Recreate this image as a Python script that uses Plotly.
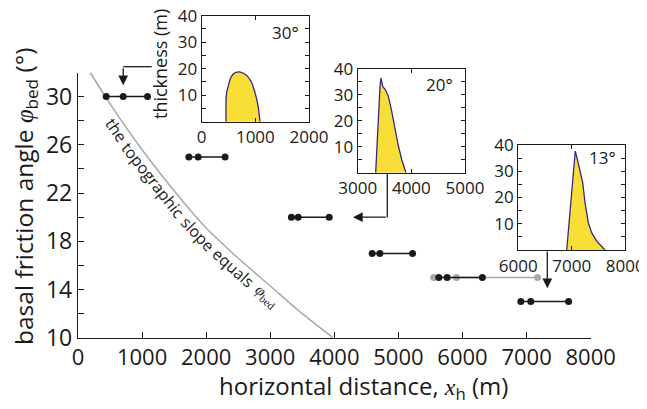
import math
import plotly.graph_objects as go

W, H = 647, 409          # browser window
OX, OY = 8, 8            # page body margin
FW, FH = W - OX, H - OY  # figure size
FONT = "Open Sans"
SERIF = "Liberation Serif"
INK = "#1a1a1a"
GREY = "#a8a8a8"
YELLOW = "#f7df38"
PURPLE = "#3e2382"

# ---------------- data ----------------
angles = [30, 25, 20, 17, 15, 13]
front_start = [440, 1730, 3330, 4590, 5630, 6910]
peak_pos = [705, 1875, 3435, 4710, 5760, 7065]
front_end = [1085, 2295, 3920, 5220, 6310, 7655]

grey_angle = 15
grey_x = [5550, 5905, 7170]

slope_x = [190, 500, 1000, 1500, 2000, 2500, 3000, 3500, 3980]
slope_y = [32.0, 29.4, 25.6, 22.2, 19.1, 16.6, 14.3, 12.0, 10.0]

p30_x = [453, 455, 470, 500, 530, 580, 640, 700, 780, 850, 930, 1000, 1050, 1087]
p30_y = [0, 9, 11.5, 13.8, 16.0, 17.8, 18.6, 18.8, 18.3, 17.2, 14.8, 10.5, 6.0, 0]
p20_x = [3335, 3354, 3384, 3416, 3434, 3466, 3516, 3571, 3634, 3696, 3758, 3820, 3900]
p20_y = [0, 9, 21.8, 33.3, 36.5, 33.3, 32, 29.5, 23.7, 16.7, 10.3, 5.1, 0]
p13_x = [6905, 6966, 7017, 7065, 7103, 7153, 7204, 7247, 7308, 7371, 7465, 7620]
p13_y = [0, 14.2, 26.9, 37.7, 34.6, 30.7, 25.7, 18, 10.4, 6.6, 3.4, 0]

main_xticks = [0, 1000, 2000, 3000, 4000, 5000, 6000, 7000, 8000]
main_yticks = [10, 12, 14, 16, 18, 20, 22, 24, 26, 28, 30, 32]
main_ylabels = ["10", "", "14", "", "18", "", "22", "", "26", "", "30", ""]
inset_yticks = [5, 10, 15, 20, 25, 30, 35, 40]
inset_ylabels = ["", "10", "", "20", "", "30", "", "40"]

curve_words = ["the", "topographic", "slope", "equals",
               f'<span style="font-family:{SERIF}"><i>φ</i><sub>bed</sub></span>']
word_em = [1.52, 5.62, 2.48, 3.05, 1.85]   # approximate text widths in em

# ---------------- geometry (window pixels) ----------------
MX0, MX1 = 78.0, 590.7      # main x: 0 .. 8000
MY0, MY1 = 337.8, 72.5      # main y: 10 .. 32
XR = [0, 8000]
YR = [10, 32]


def fx(px):
    return (px - OX) / FW


def fy(py):
    return (OY + FH - py) / FH


def px_of_x(v):
    return MX0 + (v - XR[0]) / (XR[1] - XR[0]) * (MX1 - MX0)


def py_of_y(v):
    return MY0 - (v - YR[0]) / (YR[1] - YR[0]) * (MY0 - MY1)


insets = [
    dict(box=(201.7, 309.0, 15.7, 121.7), xr=[0, 2000], xt=[0, 1000, 2000],
         px=p30_x, py=p30_y, label="30°", lab=(0.93, 0.84), smooth=True),
    dict(box=(357.7, 465.0, 69.0, 172.7), xr=[3000, 5000], xt=[3000, 4000, 5000],
         px=p20_x, py=p20_y, label="20°", lab=(0.905, 0.85), smooth=False),
    dict(box=(518.3, 625.3, 145.0, 250.0), xr=[6000, 8000], xt=[6000, 7000, 8000],
         px=p13_x, py=p13_y, label="13°", lab=(0.935, 0.88), smooth=False),
]

fig = go.Figure()

# ---------------- main panel ----------------
fig.add_trace(go.Scatter(x=slope_x, y=slope_y, mode="lines",
                         line=dict(color=GREY, width=1.5, shape="spline", smoothing=0.8),
                         hoverinfo="skip", showlegend=False))

fig.add_trace(go.Scatter(x=grey_x, y=[grey_angle] * len(grey_x), mode="lines+markers",
                         line=dict(color=GREY, width=1.5),
                         marker=dict(color=GREY, size=7), showlegend=False))

for a, s, p, e in zip(angles, front_start, peak_pos, front_end):
    fig.add_trace(go.Scatter(x=[s, p, e], y=[a, a, a], mode="lines+markers",
                             line=dict(color=INK, width=1.5),
                             marker=dict(color=INK, size=7), showlegend=False))

axis_common = dict(showline=True, linecolor=INK, linewidth=1.3, ticks="inside",
                   tickcolor=INK, showgrid=False, zeroline=False, automargin=False,
                   ticklabeloverflow="allow")

layout = dict(
    width=FW, height=FH, margin=dict(l=0, r=0, t=0, b=0),
    paper_bgcolor="white", plot_bgcolor="rgba(0,0,0,0)",
    font=dict(family=FONT, color=INK),
    xaxis=dict(domain=[fx(MX0), fx(MX1)], range=XR, tickmode="array",
               tickvals=main_xticks, ticklen=6, tickwidth=1.2,
               tickfont=dict(size=22), anchor="y", **axis_common),
    yaxis=dict(domain=[fy(MY0), fy(MY1)], range=YR, tickmode="array",
               tickvals=main_yticks, ticktext=main_ylabels, ticklen=6, tickwidth=1.2,
               tickfont=dict(size=23), anchor="x", **axis_common),
)

annotations = []
shapes = []

# ---------------- insets ----------------
for i, ins in enumerate(insets, start=2):
    l, r, t, b = ins["box"]
    xa, ya = f"xaxis{i}", f"yaxis{i}"
    layout[xa] = dict(domain=[fx(l), fx(r)], range=ins["xr"], tickmode="array",
                      tickvals=ins["xt"], ticklen=4, tickwidth=1.1, mirror="ticks",
                      tickfont=dict(size=17), anchor=f"y{i}", **axis_common)
    layout[ya] = dict(domain=[fy(b), fy(t)], range=[0, 40], tickmode="array",
                      tickvals=inset_yticks, ticktext=inset_ylabels, ticklen=4,
                      tickwidth=1.1, mirror="ticks",
                      tickfont=dict(size=17), anchor=f"x{i}", **axis_common)
    line = dict(color=PURPLE, width=1.3)
    if ins["smooth"]:
        line.update(shape="spline", smoothing=0.6)
    fig.add_trace(go.Scatter(x=ins["px"], y=ins["py"], xaxis=f"x{i}", yaxis=f"y{i}",
                             mode="lines", fill="tozeroy", fillcolor=YELLOW,
                             line=line, showlegend=False, hoverinfo="skip"))
    annotations.append(dict(text=ins["label"], xref=f"x{i} domain", yref=f"y{i} domain",
                            x=ins["lab"][0], y=ins["lab"][1], xanchor="right",
                            yanchor="middle", showarrow=False, font=dict(size=17)))

annotations.append(dict(text="thickness (m)", xref="paper", yref="paper",
                        x=fx(160), y=fy(64), textangle=-90, showarrow=False,
                        xanchor="center", yanchor="middle", font=dict(size=18)))

# ---------------- axis titles ----------------
annotations.append(dict(
    text=f'horizontal distance, <span style="font-family:{SERIF}"><i>x</i></span><sub>h</sub> (m)',
    xref="paper", yref="paper", x=fx(363), y=fy(387), showarrow=False,
    xanchor="center", yanchor="middle", font=dict(size=24)))
annotations.append(dict(
    text=f'basal friction angle <span style="font-family:{SERIF}"><i>φ</i></span><sub>bed</sub> (°)',
    xref="paper", yref="paper", x=fx(25), y=fy(197), textangle=-90, showarrow=False,
    xanchor="center", yanchor="middle", font=dict(size=24.5), borderpad=0))

# ---------------- curve label placed word by word along the curve ----------------
pts = [(px_of_x(x), py_of_y(y)) for x, y in zip(slope_x, slope_y)]
cum = [0.0]
for k in range(1, len(pts)):
    cum.append(cum[-1] + math.dist(pts[k - 1], pts[k]))


def point_at(s):
    s = max(0.0, min(s, cum[-1]))
    for k in range(1, len(pts)):
        if cum[k] >= s:
            t = (s - cum[k - 1]) / (cum[k] - cum[k - 1])
            (x0, y0), (x1, y1) = pts[k - 1], pts[k]
            return x0 + t * (x1 - x0), y0 + t * (y1 - y0)
    return pts[-1]


LABEL_FS = 16
s_pos = 50.0
space = 0.27 * LABEL_FS
offset = 10.0
for txt, em in zip(curve_words, word_em):
    wpx = em * LABEL_FS
    sc = s_pos + wpx / 2
    cx, cy = point_at(sc)
    ax_, ay_ = point_at(sc - 18)
    bx_, by_ = point_at(sc + 18)
    L = math.hypot(bx_ - ax_, by_ - ay_)
    tx, ty = (bx_ - ax_) / L, (by_ - ay_) / L
    nx, ny = -ty, tx
    ang = math.degrees(math.atan2(ty, tx))
    annotations.append(dict(text=txt, xref="paper", yref="paper",
                            x=fx(cx + offset * nx), y=fy(cy + offset * ny),
                            textangle=ang, showarrow=False, xanchor="center",
                            yanchor="middle", font=dict(size=LABEL_FS)))
    s_pos += wpx + space

# ---------------- arrows ----------------


def arrow(hx, hy, tx, ty, head=True):
    annotations.append(dict(text="", xref="paper", yref="paper", x=fx(hx), y=fy(hy),
                            axref="pixel", ayref="pixel", ax=tx - hx, ay=ty - hy,
                            showarrow=True, arrowhead=2 if head else 0, arrowsize=1.5,
                            arrowwidth=1.3, arrowcolor=INK, standoff=0, startstandoff=0))


# 30 deg inset -> 30 deg row (peak)
a1x = px_of_x(peak_pos[0])
arrow(a1x, py_of_y(30.95), a1x, 66.7)
shapes.append(dict(type="line", xref="paper", yref="paper", x0=fx(a1x), x1=fx(151.7),
                   y0=fy(66.7), y1=fy(66.7), line=dict(color=INK, width=1.3)))
# 20 deg inset -> 20 deg row
a2x = 387.3
shapes.append(dict(type="line", xref="paper", yref="paper", x0=fx(a2x), x1=fx(a2x),
                   y0=fy(172.7), y1=fy(py_of_y(20)), line=dict(color=INK, width=1.3)))
arrow(px_of_x(4290), py_of_y(20), a2x, py_of_y(20))
# 13 deg inset -> rows below
a3x = 547.3
arrow(a3x, py_of_y(14.1), a3x, 250.0)

layout["annotations"] = annotations
layout["shapes"] = shapes
fig.update_layout(**layout)

fig.write_html("out.html")
